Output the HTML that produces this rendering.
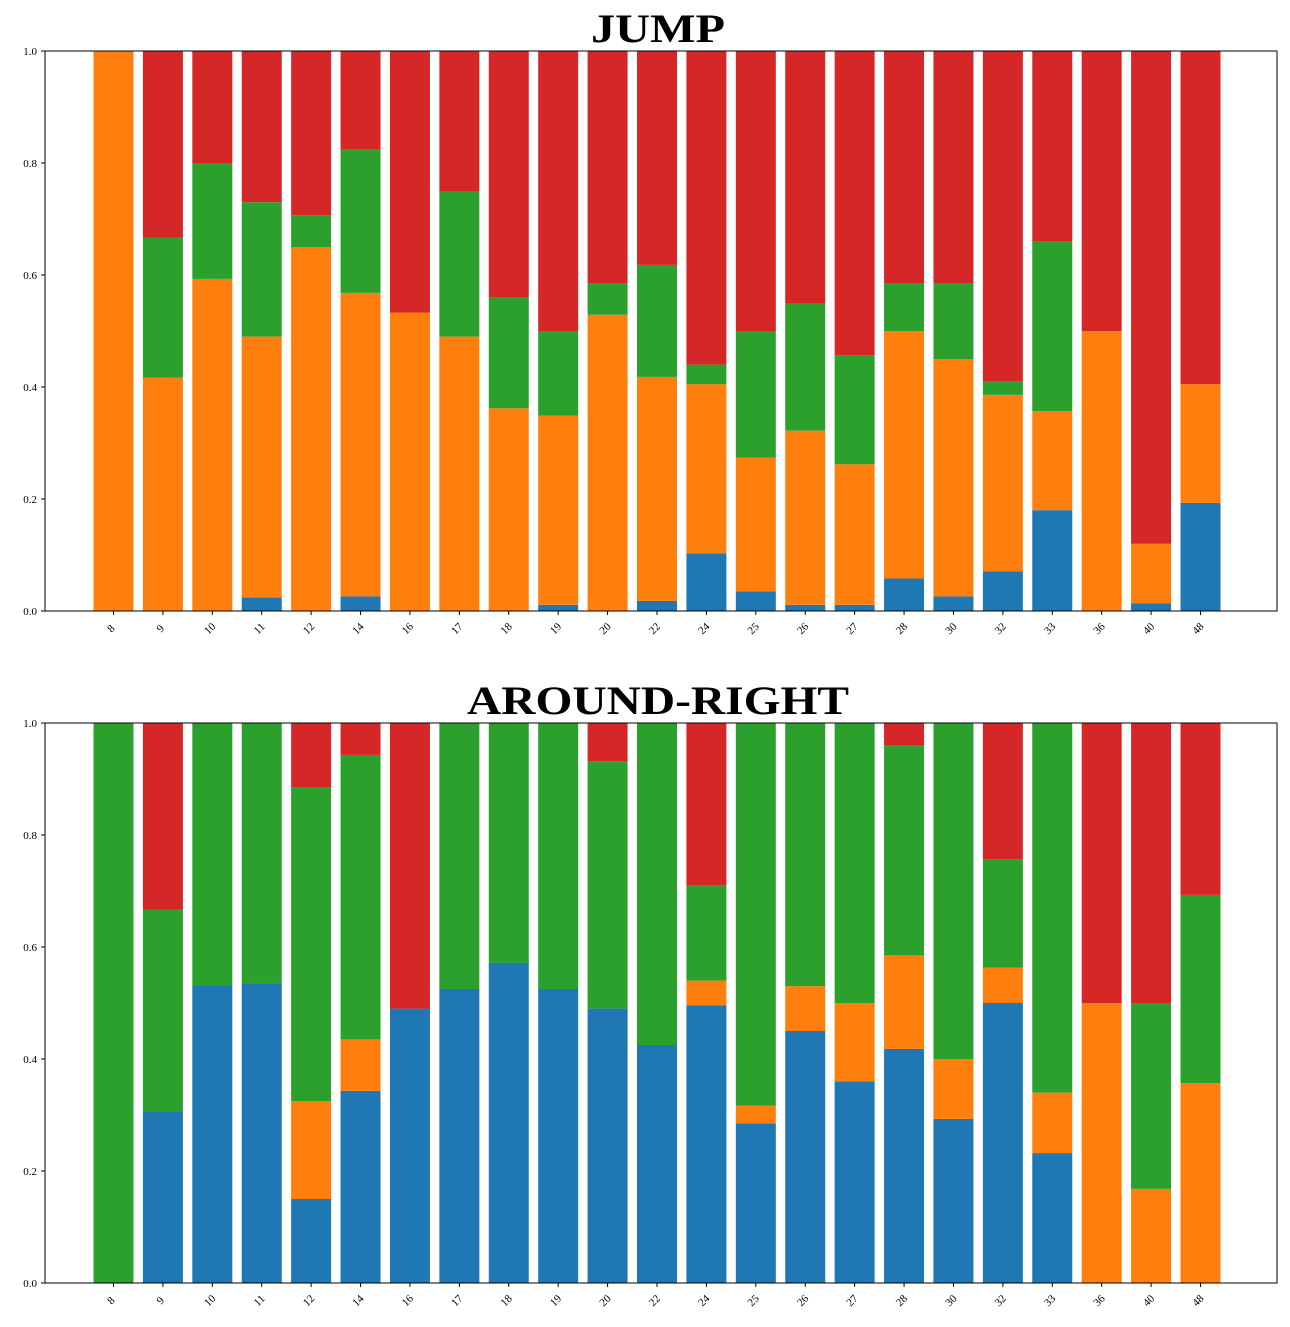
<!DOCTYPE html>
<html><head><meta charset="utf-8"><style>
body{margin:0;background:#fff;}
svg text{font-family:"Liberation Serif",serif;}
</style></head><body>
<svg id="chart" width="1290" height="1322" xmlns="http://www.w3.org/2000/svg"></svg>
<script>
const categories=["8","9","10","11","12","14","16","17","18","19","20","22","24","25","26","27","28","30","32","33","36","40","48"];
const yTicks=[0,0.2,0.4,0.6,0.8,1.0];
const colors=["#1f77b4","#ff7f0e","#2ca02c","#d62728"];
// cumulative stack tops: blue, orange, green (red fills to 1.0)
const jumpBlue=[0,0,0,0.024,0,0.026,0,0,0,0.011,0,0.018,0.103,0.035,0.011,0.011,0.058,0.026,0.071,0.18,0,0.014,0.193];
const jumpOrange=[1,0.417,0.593,0.49,0.65,0.568,0.533,0.49,0.362,0.349,0.529,0.418,0.405,0.274,0.322,0.262,0.5,0.45,0.386,0.357,0.5,0.12,0.405];
const jumpGreen=[1,0.667,0.8,0.73,0.707,0.825,0.533,0.75,0.56,0.5,0.585,0.618,0.44,0.5,0.55,0.457,0.585,0.585,0.41,0.66,0.5,0.12,0.405];
const arBlue=[0,0.307,0.532,0.535,0.15,0.343,0.49,0.525,0.572,0.525,0.49,0.425,0.496,0.285,0.45,0.36,0.418,0.293,0.5,0.232,0,0,0];
const arOrange=[0,0.307,0.532,0.535,0.325,0.435,0.49,0.525,0.572,0.525,0.49,0.425,0.54,0.317,0.53,0.5,0.585,0.4,0.563,0.34,0.5,0.168,0.357];
const arGreen=[1,0.667,1,1,0.885,0.943,0.49,1,1,1,0.932,1,0.71,1,1,1,0.96,1,0.757,1,0.5,0.5,0.693];

const svg=document.getElementById('chart');
const NS='http://www.w3.org/2000/svg';
function mk(tag,attrs,parent){const e=document.createElementNS(NS,tag);for(const k in attrs)e.setAttribute(k,attrs[k]);parent.appendChild(e);return e;}

function drawPanel(title,top,blue,orange,green,slug,titleLen){
  const x0=45,x1=1277,y0=top+560,y1=top;
  const g=mk('g',{},svg);
  
  
  const xs=i=>113.5+i*(1200.5-113.5)/22;
  const ys=v=>y0-v*(y0-y1);
  const t=mk('text',{x:658,y:top-9,'text-anchor':'middle','font-size':40,'font-weight':'bold',textLength:titleLen,lengthAdjust:'spacingAndGlyphs'},g);
  t.textContent=title;
  
  
  categories.forEach((c,i)=>{
    const segs=[[0,blue[i]],[blue[i],orange[i]],[orange[i],green[i]],[green[i],1]];
    segs.forEach((s,k)=>{
      if(s[1]-s[0]<=0)return;
      const r=mk('rect',{x:xs(i)-20,y:ys(s[1]),width:40,height:ys(s[0])-ys(s[1]),fill:colors[k]},g);
      
      
    });
    mk('line',{x1:xs(i),x2:xs(i),y1:y0,y2:y0+4,stroke:'#000','stroke-width':1},g);
    const lb=mk('text',{x:0,y:0,'font-size':11,'text-anchor':'middle',transform:`translate(${xs(i)},${y0+20}) rotate(-45)`},g);
    lb.textContent=c;
    
    
  });
  yTicks.forEach(v=>{
    mk('line',{x1:x0-4,x2:x0,y1:ys(v),y2:ys(v),stroke:'#000','stroke-width':1},g);
    const lb=mk('text',{x:x0-8,y:ys(v)+4,'font-size':11,'text-anchor':'end'},g);
    lb.textContent=v.toFixed(1);
    
    
  });
  const fr=mk('rect',{x:x0,y:y1,width:x1-x0,height:y0-y1,fill:'none',stroke:'#000','stroke-width':1},g);
  
  
}
drawPanel('JUMP',51,jumpBlue,jumpOrange,jumpGreen,'jump',134);
drawPanel('AROUND-RIGHT',723,arBlue,arOrange,arGreen,'around-right',382);
</script>
</body></html>
